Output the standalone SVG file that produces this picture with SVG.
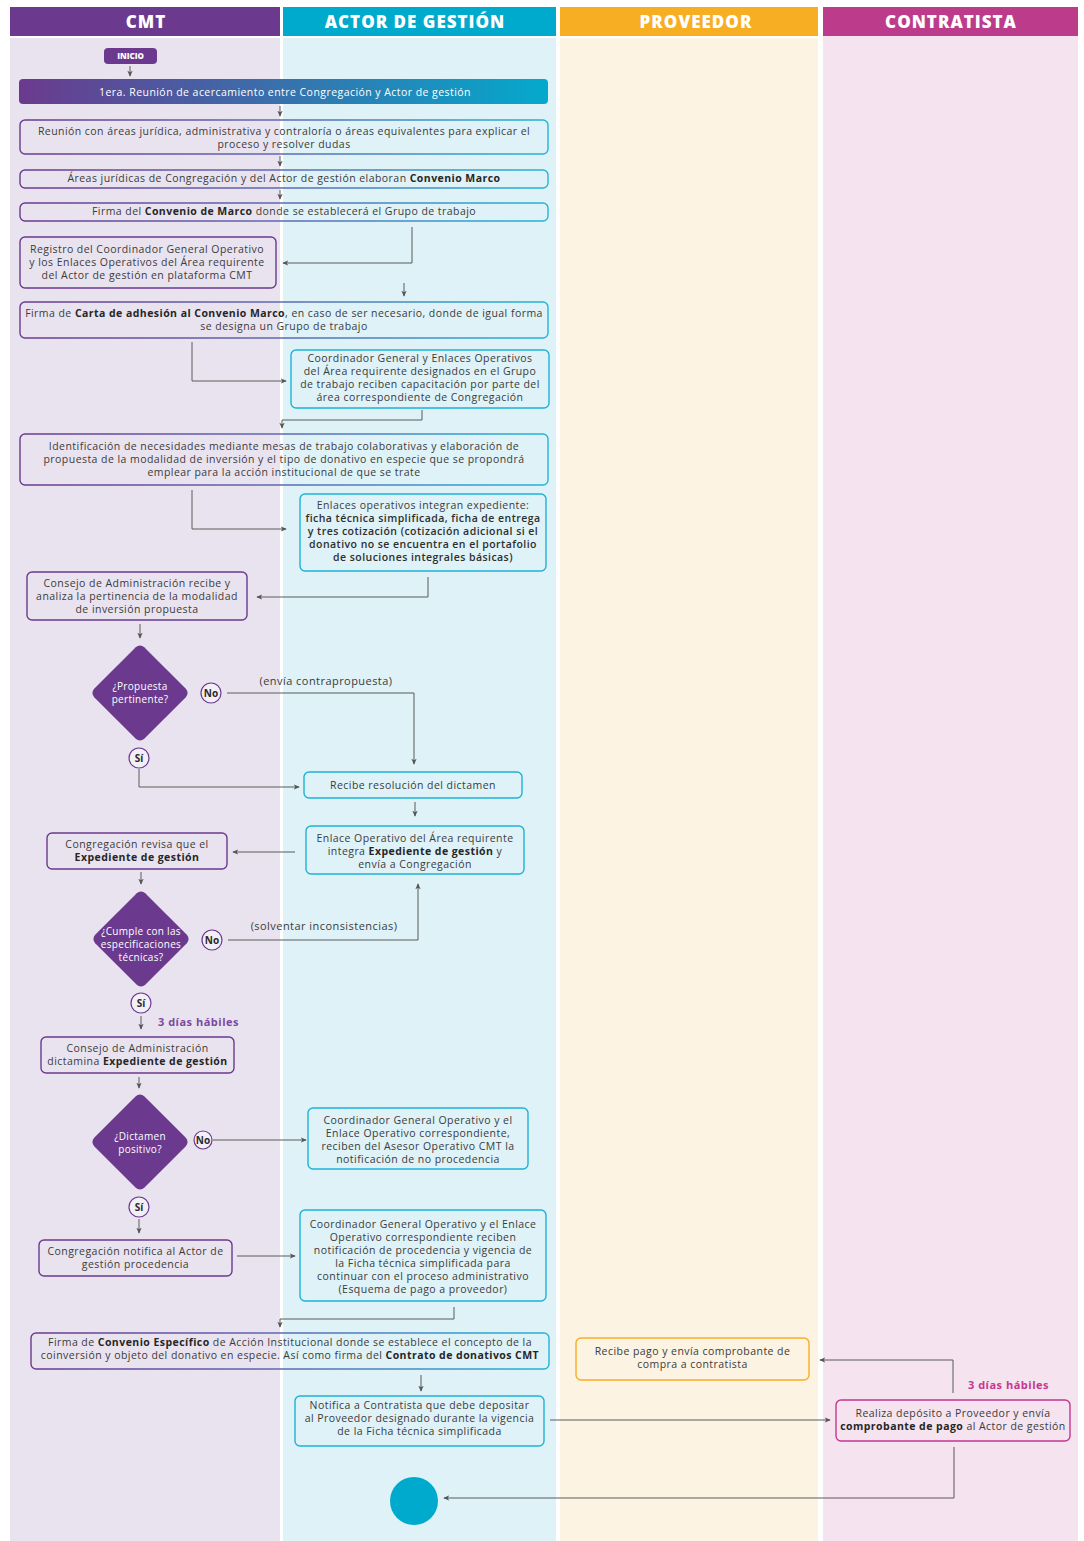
<svg xmlns="http://www.w3.org/2000/svg" width="1084" height="1541" viewBox="0 0 1084 1541">
<defs>
<linearGradient id="gBar" x1="0" y1="0" x2="1" y2="0"><stop offset="0" stop-color="#6B3A8E"/><stop offset="1" stop-color="#04A9CC"/></linearGradient>
<linearGradient id="gStroke" x1="0" y1="0" x2="1" y2="0"><stop offset="0" stop-color="#6B3A8E"/><stop offset="0.5" stop-color="#5E6BB3"/><stop offset="1" stop-color="#22B5D6"/></linearGradient>
<marker id="ah" viewBox="0 0 8 8" refX="7" refY="4" markerWidth="6" markerHeight="6" orient="auto" markerUnits="userSpaceOnUse"><path d="M0,0.5 L8,4 L0,7.5 L2,4 z" fill="#555"/></marker>
</defs>
<style>
.t{font-family:"Open Sans","Liberation Sans",sans-serif;font-size:10.5px;fill:#3b3b3b;text-anchor:middle;letter-spacing:0.45px}
.b{font-weight:700;fill:#262626}
.sb{font-weight:600;fill:#2e2e2e}
.hd{font-family:"Open Sans","Liberation Sans",sans-serif;font-size:17px;font-weight:800;fill:#fff;text-anchor:middle;letter-spacing:1px}
.bp{fill:none;stroke:#6B3A8E;stroke-width:1.4}
.bc{fill:none;stroke:#1EB3D5;stroke-width:1.4}
.bg{fill:none;stroke:url(#gStroke);stroke-width:1.4}
.bo{fill:none;stroke:#F7AE22;stroke-width:1.4}
.bm{fill:none;stroke:#C5378F;stroke-width:1.4}
.dm{fill:#6B3A8E}
.dt{font-family:"Open Sans","Liberation Sans",sans-serif;font-size:10px;fill:#fff;text-anchor:middle;letter-spacing:0.3px}
.yn{fill:#F3EFF6;stroke:#6B3A8E;stroke-width:1.2}
.ynt{font-family:"Open Sans","Liberation Sans",sans-serif;font-size:10px;font-weight:700;fill:#2a2a2a;text-anchor:middle}
.c{fill:none;stroke:#5a5a5a;stroke-width:1;marker-end:url(#ah)}
.lbl{font-family:"Open Sans","Liberation Sans",sans-serif;font-size:11px;fill:#3b3b3b;text-anchor:middle;letter-spacing:0.45px}
.days{font-family:"Open Sans","Liberation Sans",sans-serif;font-size:11px;font-weight:700;letter-spacing:0.5px}
</style>
<rect width="1084" height="1541" fill="#fff"/>
<g id="lanes">
<rect x="10" y="7" width="270" height="29" fill="#6B3A8E"/>
<rect x="10" y="38" width="270" height="1503" fill="#E9E3EF"/>
<text class="hd" x="146" y="28">CMT</text>
<rect x="283" y="7" width="273" height="29" fill="#00AACC"/>
<rect x="283" y="38" width="273" height="1503" fill="#DEF2F8"/>
<text class="hd" x="415" y="28">ACTOR DE GESTIÓN</text>
<rect x="560" y="7" width="258" height="29" fill="#F7AE22"/>
<rect x="560" y="38" width="258" height="1503" fill="#FCF3E2"/>
<text class="hd" x="696" y="28">PROVEEDOR</text>
<rect x="823" y="7" width="255" height="29" fill="#BC3C8B"/>
<rect x="823" y="36" width="255" height="1505" fill="#F5E3EF"/>
<text class="hd" x="951" y="28">CONTRATISTA</text>
</g>
<g id="connectors">
<path class="c" d="M130,66 V76"/>
<path class="c" d="M280,106 V116"/>
<path class="c" d="M280,156 V166"/>
<path class="c" d="M280,190 V199"/>
<path class="c" d="M412,227 V263 H283"/>
<path class="c" d="M404,283 V296"/>
<path class="c" d="M192,342 V381 H286"/>
<path class="c" d="M422,410 V420 H282 V428"/>
<path class="c" d="M192,490 V529 H286"/>
<path class="c" d="M428,577 V597 H257"/>
<path class="c" d="M140,624 V638"/>
<path class="c" d="M227,693 H414 V764"/>
<path class="c" d="M139,769 V787 H299"/>
<path class="c" d="M415,802 V816"/>
<path class="c" d="M295,852 H233"/>
<path class="c" d="M141,872 V884"/>
<path class="c" d="M228,940 H418 V884"/>
<path class="c" d="M141,1016 V1029"/>
<path class="c" d="M139,1077 V1088"/>
<path class="c" d="M213,1140 H306"/>
<path class="c" d="M139,1219 V1233"/>
<path class="c" d="M237,1256 H295"/>
<path class="c" d="M454,1307 V1319 H280 V1327"/>
<path class="c" d="M421,1375 V1391"/>
<path class="c" d="M550,1420 H830"/>
<path class="c" d="M953,1393 V1360 H820"/>
<path class="c" d="M954,1447 V1498 H444"/>
<text class="lbl" x="326" y="685">(envía contrapropuesta)</text>
<text class="lbl" x="324" y="930">(solventar inconsistencias)</text>
<text class="days" x="158" y="1026" fill="#7B4A9E">3 días hábiles</text>
<text class="days" x="968" y="1389" fill="#C5378F">3 días hábiles</text>
</g>
<g id="inicio">
<rect x="104" y="48" width="53" height="16" rx="4" fill="#6B3A8E"/>
<text x="130.5" y="59" font-family="'Open Sans','Liberation Sans',sans-serif" font-size="8" font-weight="800" fill="#fff" text-anchor="middle">INICIO</text>
</g>
<g id="n1">
<rect x="19" y="79" width="529" height="25" rx="4" fill="url(#gBar)"/>
<text class="t" x="285" y="96" style="fill:#fff">1era. Reunión de acercamiento entre Congregación y Actor de gestión</text>
</g>
<g id="n2">
<rect class="bg" x="20" y="120" width="528" height="34" rx="5"/>
<text class="t" x="284" y="135">Reunión con áreas jurídica, administrativa y contraloría o áreas equivalentes para explicar el</text>
<text class="t" x="284" y="148">proceso y resolver dudas</text>
</g>
<g id="n3">
<rect class="bg" x="20" y="170" width="528" height="18" rx="5"/>
<text class="t" x="284" y="182">Áreas jurídicas de Congregación y del  Actor de gestión elaboran <tspan class="b">Convenio Marco</tspan></text>
</g>
<g id="n4">
<rect class="bg" x="20" y="203" width="528" height="18" rx="5"/>
<text class="t" x="284" y="215">Firma del <tspan class="b">Convenio de Marco</tspan> donde se establecerá el Grupo de trabajo</text>
</g>
<g id="n5">
<rect class="bp" x="20" y="237" width="256" height="51" rx="5"/>
<text class="t" x="147" y="253">Registro del Coordinador General Operativo</text>
<text class="t" x="147" y="266">y los Enlaces Operativos del Área requirente</text>
<text class="t" x="147" y="279">del Actor de gestión en plataforma CMT</text>
</g>
<g id="n6">
<rect class="bg" x="20" y="302" width="528" height="36" rx="5"/>
<text class="t" x="284" y="317">Firma de <tspan class="b">Carta de adhesión al Convenio Marco</tspan>, en caso de ser necesario, donde de igual forma</text>
<text class="t" x="284" y="330">se designa un Grupo de trabajo</text>
</g>
<g id="n7">
<rect class="bc" x="291" y="350" width="258" height="58" rx="5"/>
<text class="t" x="420" y="362">Coordinador General y Enlaces Operativos</text>
<text class="t" x="420" y="375">del Área requirente designados en el Grupo</text>
<text class="t" x="420" y="388">de trabajo reciben capacitación por parte del</text>
<text class="t" x="420" y="401">área correspondiente de Congregación</text>
</g>
<g id="n8">
<rect class="bg" x="20" y="434" width="528" height="51" rx="5"/>
<text class="t" x="284" y="450">Identificación de necesidades mediante mesas de trabajo colaborativas y elaboración de</text>
<text class="t" x="284" y="463">propuesta de la modalidad de inversión y el tipo de donativo en especie que se propondrá</text>
<text class="t" x="284" y="476">emplear para la acción institucional de que se trate</text>
</g>
<g id="n9">
<rect class="bc" x="300" y="494" width="246" height="77" rx="5"/>
<text class="t" x="423" y="509">Enlaces operativos integran expediente:</text>
<text class="t sb" x="423" y="522">ficha técnica simplificada, ficha de entrega</text>
<text class="t sb" x="423" y="535">y tres cotización (cotización adicional si el</text>
<text class="t sb" x="423" y="548">donativo no se encuentra en el portafolio</text>
<text class="t sb" x="423" y="561">de soluciones integrales básicas)</text>
</g>
<g id="n10">
<rect class="bp" x="27" y="572" width="220" height="48" rx="5"/>
<text class="t" x="137" y="587">Consejo de Administración recibe y</text>
<text class="t" x="137" y="600">analiza la pertinencia de la modalidad</text>
<text class="t" x="137" y="613">de inversión propuesta</text>
</g>
<g id="d1">
<rect class="dm" x="-35.4" y="-35.4" width="70.8" height="70.8" rx="6" transform="translate(140,693) rotate(45)"/>
<text class="dt" x="140" y="690">¿Propuesta</text>
<text class="dt" x="140" y="703">pertinente?</text>
<circle class="yn" cx="211" cy="693" r="10"/>
<text class="ynt" x="211" y="697">No</text>
<circle class="yn" cx="139" cy="758" r="10"/>
<text class="ynt" x="139" y="762">Sí</text>
</g>
<g id="n11">
<rect class="bc" x="304" y="772" width="218" height="26" rx="5"/>
<text class="t" x="413" y="789">Recibe resolución del dictamen</text>
</g>
<g id="n12">
<rect class="bc" x="306" y="826" width="218" height="48" rx="5"/>
<text class="t" x="415" y="842">Enlace Operativo del Área requirente</text>
<text class="t" x="415" y="855">integra <tspan class="b">Expediente de gestión</tspan> y</text>
<text class="t" x="415" y="868">envía a Congregación</text>
</g>
<g id="n13">
<rect class="bp" x="47" y="833" width="180" height="36" rx="5"/>
<text class="t" x="137" y="848">Congregación revisa que el</text>
<text class="t b" x="137" y="861">Expediente de gestión</text>
</g>
<g id="d2">
<rect class="dm" x="-35.4" y="-35.4" width="70.8" height="70.8" rx="6" transform="translate(141,939) rotate(45)"/>
<text class="dt" x="141" y="935">¿Cumple con las</text>
<text class="dt" x="141" y="948">especificaciones</text>
<text class="dt" x="141" y="961">técnicas?</text>
<circle class="yn" cx="212" cy="940" r="10"/>
<text class="ynt" x="212" y="944">No</text>
<circle class="yn" cx="141" cy="1003" r="10"/>
<text class="ynt" x="141" y="1007">Sí</text>
</g>
<g id="n14">
<rect class="bp" x="41" y="1037" width="193" height="36" rx="5"/>
<text class="t" x="137.5" y="1052">Consejo de Administración</text>
<text class="t" x="137.5" y="1065">dictamina <tspan class="b">Expediente de gestión</tspan></text>
</g>
<g id="d3">
<rect class="dm" x="-35.4" y="-35.4" width="70.8" height="70.8" rx="6" transform="translate(140,1142) rotate(45)"/>
<text class="dt" x="140" y="1140">¿Dictamen</text>
<text class="dt" x="140" y="1153">positivo?</text>
<circle class="yn" cx="203" cy="1140" r="9"/>
<text class="ynt" x="203" y="1144">No</text>
<circle class="yn" cx="139" cy="1207" r="10"/>
<text class="ynt" x="139" y="1211">Sí</text>
</g>
<g id="n15">
<rect class="bc" x="308" y="1108" width="220" height="61" rx="5"/>
<text class="t" x="418" y="1124">Coordinador General Operativo y el</text>
<text class="t" x="418" y="1137">Enlace Operativo correspondiente,</text>
<text class="t" x="418" y="1150">reciben del Asesor Operativo CMT la</text>
<text class="t" x="418" y="1163">notificación de no procedencia</text>
</g>
<g id="n16">
<rect class="bp" x="39" y="1240" width="193" height="36" rx="5"/>
<text class="t" x="135.5" y="1255">Congregación notifica al Actor de</text>
<text class="t" x="135.5" y="1268">gestión procedencia</text>
</g>
<g id="n17">
<rect class="bc" x="300" y="1210" width="246" height="91" rx="5"/>
<text class="t" x="423" y="1228">Coordinador General Operativo y el Enlace</text>
<text class="t" x="423" y="1241">Operativo correspondiente reciben</text>
<text class="t" x="423" y="1254">notificación de procedencia y vigencia de</text>
<text class="t" x="423" y="1267">la Ficha técnica simplificada para</text>
<text class="t" x="423" y="1280">continuar con el proceso administrativo</text>
<text class="t" x="423" y="1293">(Esquema de pago a proveedor)</text>
</g>
<g id="n18">
<rect class="bg" x="31" y="1333" width="518" height="36" rx="5"/>
<text class="t" x="290" y="1346">Firma de <tspan class="b">Convenio Específico</tspan> de Acción Institucional donde se establece el concepto de la</text>
<text class="t" x="290" y="1359">coinversión y objeto del donativo en especie. Así como firma del <tspan class="b">Contrato de donativos CMT</tspan></text>
</g>
<g id="n19">
<rect class="bc" x="295" y="1396" width="249" height="50" rx="5"/>
<text class="t" x="419.5" y="1409">Notifica a Contratista que debe depositar</text>
<text class="t" x="419.5" y="1422">al Proveedor designado durante la vigencia</text>
<text class="t" x="419.5" y="1435">de la Ficha técnica simplificada</text>
</g>
<g id="n20">
<rect class="bm" x="836" y="1400" width="234" height="41" rx="5"/>
<text class="t" x="953" y="1417">Realiza depósito a Proveedor y envía</text>
<text class="t" x="953" y="1430"><tspan class="b">comprobante de pago</tspan> al Actor de gestión</text>
</g>
<g id="n21">
<rect class="bo" x="576" y="1338" width="233" height="42" rx="5"/>
<text class="t" x="692.5" y="1355">Recibe pago y envía comprobante de</text>
<text class="t" x="692.5" y="1368">compra a contratista</text>
</g>
<g id="fin">
<circle cx="414" cy="1501" r="24" fill="#00AACC"/>
</g>
</svg>
